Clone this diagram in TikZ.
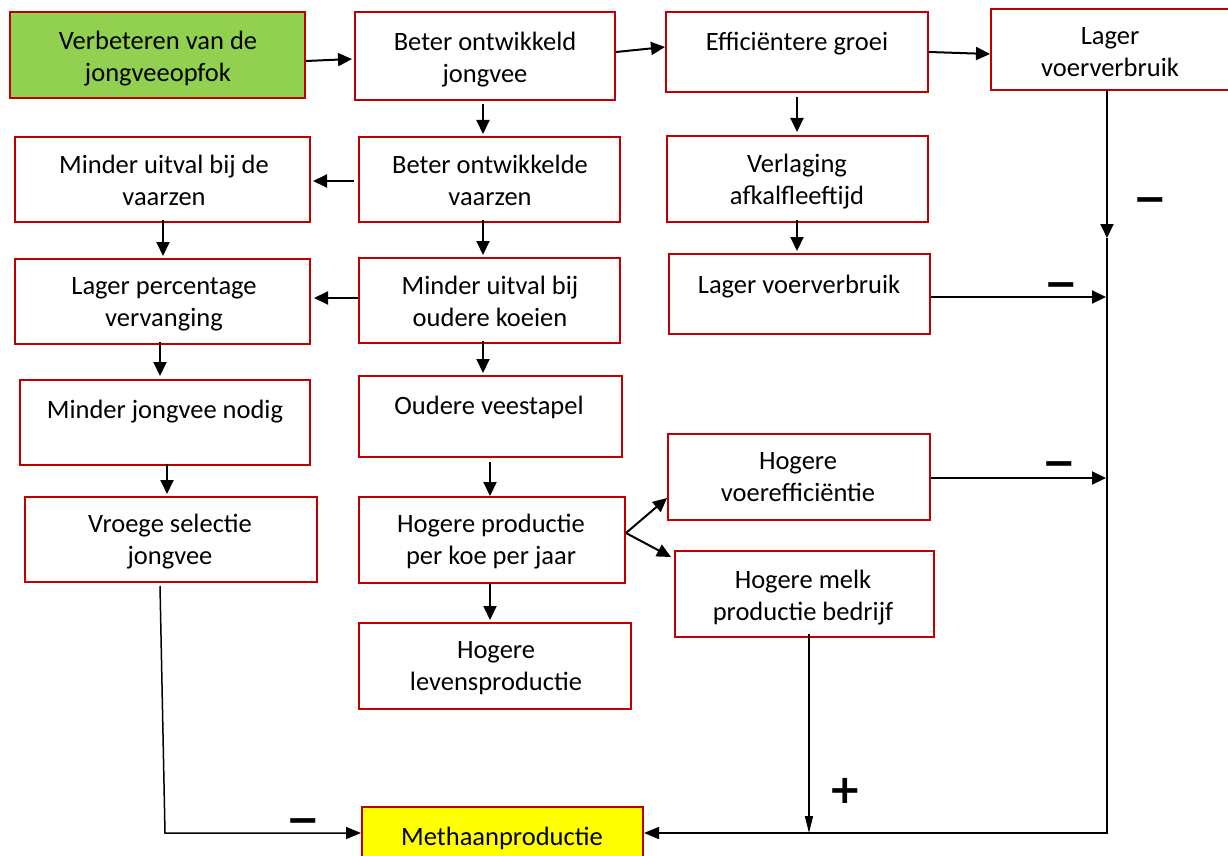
\documentclass[tikz,border=0pt]{standalone}
\usepackage{fontspec}
\setmainfont{Carlito}
\newfontfamily\signfont{DejaVu Sans}
\usetikzlibrary{arrows.meta,calc}
\definecolor{boxred}{HTML}{C00000}
\definecolor{startgreen}{HTML}{92D050}
\definecolor{endyellow}{HTML}{FFFF00}

\begin{document}
\begin{tikzpicture}[x=1pt,y=-1pt,
  bx/.style={draw=boxred,line width=2pt,fill=white,inner sep=0pt},
  tx/.style={font=\fontsize{26.5}{32}\selectfont,align=center,inner sep=0pt,yshift=-4pt,
    execute at begin node=\strut,execute at end node=\strut},
  arr/.style={line width=2pt,-{Triangle[length=14pt,width=13pt]}},
  thinarr/.style={line width=1.5pt,-{Triangle[length=15pt,width=12pt]}},
  narrowarr/.style={line width=1.5pt,-{Triangle[length=17pt,width=8pt]}},
  sign/.style={font=\signfont\bfseries\fontsize{40}{40}\selectfont,inner sep=0pt}]

\useasboundingbox (0,0) rectangle (1228,856);
\fill[white] (0,0) rectangle (1228,856);

% boxes
\node[bx,fill=startgreen,minimum width=295,minimum height=86] (n1) at (157.5,55) {};
\node[bx,minimum width=260,minimum height=88] (n2) at (485,56) {};
\node[bx,minimum width=262,minimum height=80] (n3) at (797,52) {};
\node[bx,minimum width=239,minimum height=81] (n4) at (1110.5,49.5) {};
\node[bx,minimum width=295,minimum height=85] (n5) at (162.5,179.5) {};
\node[bx,minimum width=261,minimum height=85] (n6) at (489.5,179.5) {};
\node[bx,minimum width=261,minimum height=86] (n7) at (797.5,179) {};
\node[bx,minimum width=295,minimum height=85] (n8) at (162.5,301.5) {};
\node[bx,minimum width=261,minimum height=85] (n9) at (489.5,300.5) {};
\node[bx,minimum width=261,minimum height=80] (n10) at (799.5,294) {};
\node[bx,minimum width=290,minimum height=85] (n11) at (165,422.5) {};
\node[bx,minimum width=263,minimum height=81] (n12) at (490.5,416.5) {};
\node[bx,minimum width=262,minimum height=86] (n13) at (799,477) {};
\node[bx,minimum width=292,minimum height=85] (n14) at (171,539.5) {};
\node[bx,minimum width=266,minimum height=86] (n15) at (492,540) {};
\node[bx,minimum width=259,minimum height=86] (n16) at (804.5,594) {};
\node[bx,minimum width=272,minimum height=86] (n17) at (495,666) {};
\node[bx,fill=endyellow,minimum width=281,minimum height=63] (n18) at (502.5,838.5) {};

% texts
\node[tx] (t1) at (158,57) {Verbeteren van de\\jongveeopfok};
\node[tx] (t2) at (485,58) {Beter ontwikkeld\\jongvee};
\node[tx] (t3) at (797,40) {Efficiëntere groei};
\node[tx] (t4) at (1110,53) {Lager\\voerverbruik};
\node[tx] (t5) at (164,181) {Minder uitval bij de\\vaarzen};
\node[tx] (t6) at (490,181) {Beter ontwikkelde\\vaarzen};
\node[tx] (t7) at (797,180) {Verlaging\\afkalfleeftijd};
\node[tx] (t8) at (164,303) {Lager percentage\\vervanging};
\node[tx] (t9) at (490,302) {Minder uitval bij\\oudere koeien};
\node[tx] (t10) at (799,283) {Lager voerverbruik};
\node[tx] (t11) at (165,408) {Minder jongvee nodig};
\node[tx] (t12) at (489,404) {Oudere veestapel};
\node[tx] (t13) at (798,478) {Hogere\\voerefficiëntie};
\node[tx] (t14) at (170,540) {Vroege selectie\\jongvee};
\node[tx] (t15) at (491,540) {Hogere productie\\per koe per jaar};
\node[tx] (t16) at (803,596) {Hogere melk\\productie bedrijf};
\node[tx] (t17) at (496,667) {Hogere\\levensproductie};
\node[tx] (t18) at (502,835) {Methaanproductie};

% junction points on the collecting lines
\coordinate (j1) at (1107,238);
\coordinate (j2) at (1107,833);
\coordinate (j3) at (1106,297);
\coordinate (j4) at (1106,478);
\coordinate (j5) at (809,833);
\coordinate (j6) at (165,833);

% arrows between boxes
\draw[arr] ($(n1.east)+(0,6)$) -- ($(n2.west)+(-2,3)$);
\draw[arr] ($(n2.east)+(0,-4)$) -- ($(n3.west)+(0,-5)$);
\draw[arr] ($(n3.east)+(0,0)$) -- ($(n4.west)+(0,4.5)$);
\draw[arr] ($(n2.south)+(-2,3)$) -- ($(n6.north)+(-6.5,-2)$);
\draw[arr] ($(n3.south)+(0,4)$) -- ($(n7.north)+(-0.5,-3)$);
\draw[arr] ($(n6.west)+(-4,1.5)$) -- ($(n5.east)+(2,1.5)$);
\draw[arr] ($(n6.south)+(-6.5,-3)$) -- ($(n9.north)+(-6.5,-2)$);
\draw[arr] ($(n5.south)+(0.5,-3)$) -- ($(n8.north)+(0.5,-2)$);
\draw[arr] ($(n9.west)+(0,-2.5)$) -- ($(n8.east)+(3,-3.5)$);
\draw[arr] ($(n8.south)+(-2.5,-3)$) -- ($(n11.north)+(-5,-3)$);
\draw[arr] ($(n9.south)+(-6.5,-3)$) -- ($(n12.north)+(-7.5,-2)$);
\draw[arr] ($(n7.south)+(-0.5,-3)$) -- ($(n10.north)+(-2.5,-2)$);
\draw[arr] ($(n11.south)+(2,-2)$) -- ($(n14.north)+(-4,-2)$);
\draw[arr] ($(n12.south)+(-0.5,4)$) -- ($(n15.north)+(-2,0)$);
\draw[arr] ($(n15.east)+(0,-7)$) -- ($(n13.west)+(0,21)$);
\draw[arr] ($(n15.east)+(0,-7)$) -- ($(n16.west)+(-3,-37)$);
\draw[arr] ($(n15.south)+(-2,0)$) -- ($(n17.north)+(-5,-2)$);

% collecting lines towards methane production
\draw[arr] ($(n4.south)+(-3.5,0)$) -- (j1);
\draw[line width=2pt] (j1) -- ($(j1)+(0,4)$);
\draw[thinarr] ($(j1)+(0,4)$) -- (j2) -- ($(n18.east)+(0,-5.5)$);
\draw[arr] ($(n10.east)+(0,3)$) -- (j3);
\draw[arr] ($(n13.east)+(0,1)$) -- (j4);
\draw[narrowarr] ($(n16.south)+(4.5,-4)$) -- (j5);
\draw[thinarr] ($(n14.south)+(-11,3)$) -- (j6) -- ($(n18.west)+(0,-5.5)$);

% signs
\node[sign] (s1) at (1150,205) {−};
\node[sign] (s2) at (1061,290) {−};
\node[sign] (s3) at (1059,469) {−};
\node[sign] (s4) at (303,826) {−};
\node[sign] (s5) at (845,791) {+};
\end{tikzpicture}
\end{document}
